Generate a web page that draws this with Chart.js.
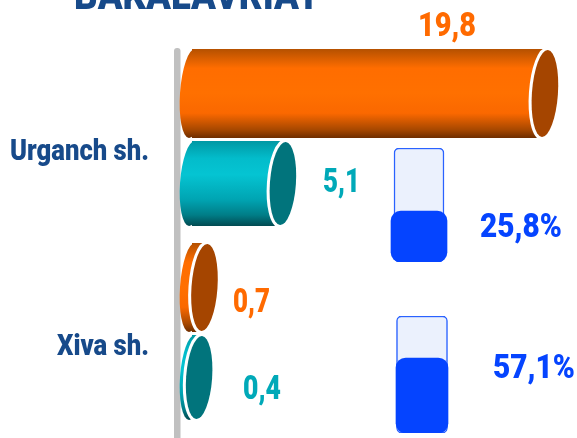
<!DOCTYPE html>
<html><head><meta charset="utf-8">
<style>
html,body{margin:0;padding:0;background:#fff;overflow:hidden}
#wrap{position:relative;width:577px;height:438px}
canvas{position:absolute}
</style>
<script src="https://cdn.jsdelivr.net/npm/chart.js@4"></script>
</head><body>
<div id="wrap">
<canvas id="main" width="577" height="438" style="left:0;top:0"></canvas>
<canvas id="g0" width="64" height="116" style="left:387px;top:147px"></canvas>
<canvas id="g1" width="64" height="119" style="left:390px;top:315px"></canvas>
</div>
<script>
const titleText = "BAKALAVRIAT";
const categories = ["Urganch sh.", "Xiva sh."];
const seriesOrange = [19.8, 0.7];
const seriesTeal = [5.1, 0.4];
const percents = [25.8, 57.1];

const NAVY = "#174a8a", ORANGE = "#ff6a00", TEAL = "#00a9b8", BLUE = "#0544ff";

function comma(v, suffix) { return String(v).replace(".", ",") + (suffix || ""); }

function fitText(ctx, text, left, width, baseline, size, color) {
  ctx.save();
  ctx.font = "900 " + size + "px Roboto";
  ctx.fillStyle = color;
  ctx.textBaseline = "alphabetic";
  ctx.textAlign = "left";
  const k = width / ctx.measureText(text).width;
  ctx.translate(left, baseline);
  ctx.scale(k, 1);
  ctx.fillText(text, 0, 0);
  ctx.restore();
}

const stops = [
  [["#b35000", 0], ["#ff6d00", .22], ["#ff7000", .5], ["#fa6800", .72], ["#a84800", .9], ["#6b2c00", 1]],
  [["#00939e", 0], ["#03bccb", .22], ["#05c4d2", .4], ["#00a4b2", .68], ["#007d87", .85], ["#023f45", 1]]
];
function cylinderFill(ds) {
  return function (c) {
    const ch = c.chart;
    if (!ch.chartArea || !ch.scales.y) return stops[ds][1][0];
    const band = ch.scales.y.getPixelForValue(c.dataIndex);
    const top = ds === 0 ? band - 90 : band, bot = top + 90;
    const g = ch.ctx.createLinearGradient(0, top, 0, bot);
    stops[ds].forEach(s => g.addColorStop(s[1], s[0]));
    return g;
  };
}

const capColors = ["#a54500", "#01747c"];
const TILT = 0.07, RX = 13;

const cylinders = {
  id: "cylinders",
  beforeDatasetsDraw(chart) {
    const ctx = chart.ctx, a = chart.chartArea;
    ctx.save();
    ctx.fillStyle = "#c0c0c0";
    ctx.beginPath();
    ctx.roundRect(174, 48, 6.5, 400, 3);
    ctx.fill();
    chart.data.datasets.forEach((d, i) => {
      chart.getDatasetMeta(i).data.forEach(el => {
        ctx.fillStyle = el.options.backgroundColor;
        ctx.beginPath();
        ctx.ellipse(a.left, el.y, 12, el.height / 2, TILT, 0, Math.PI * 2);
        ctx.fill();
      });
    });
    ctx.restore();
  },
  afterDatasetsDraw(chart) {
    const ctx = chart.ctx;
    ctx.save();
    chart.data.datasets.forEach((d, i) => {
      chart.getDatasetMeta(i).data.forEach(el => {
        const ry = el.height / 2 - 1;
        ctx.beginPath();
        ctx.ellipse(el.x, el.y, RX, ry, TILT, 0, Math.PI * 2);
        ctx.fillStyle = capColors[i];
        ctx.strokeStyle = "#fff";
        ctx.lineWidth = 6;
        ctx.stroke();
        ctx.fill();
      });
    });
    ctx.restore();
  },
  afterDraw(chart) {
    const ctx = chart.ctx, y = chart.scales.y;
    fitText(ctx, titleText, 74, 246, 8.5, 41, NAVY);
    fitText(ctx, categories[0], 10, 139, y.getPixelForValue(0) + 21, 29, NAVY);
    fitText(ctx, categories[1], 57, 92, y.getPixelForValue(1) + 22, 29, NAVY);
    fitText(ctx, comma(seriesOrange[0]), 418, 58, 36, 34, ORANGE);
    fitText(ctx, comma(seriesTeal[0]), 323, 37, 192, 34, TEAL);
    fitText(ctx, comma(seriesOrange[1]), 233, 37, 312, 34, ORANGE);
    fitText(ctx, comma(seriesTeal[1]), 243, 38, 399, 34, TEAL);
    fitText(ctx, comma(percents[0], "%"), 480, 82, 237, 34, BLUE);
    fitText(ctx, comma(percents[1], "%"), 493, 82, 378, 34, BLUE);
  }
};

new Chart(document.getElementById("main"), {
  type: "bar",
  data: {
    labels: categories,
    datasets: [
      { data: seriesOrange, backgroundColor: cylinderFill(0), barPercentage: .99, categoryPercentage: .928, borderRadius: { topRight: 3, bottomRight: 9 }, borderSkipped: false },
      { data: seriesTeal, backgroundColor: cylinderFill(1), barPercentage: .945, categoryPercentage: .928, borderRadius: { topRight: 3, bottomRight: 9 }, borderSkipped: false }
    ]
  },
  options: {
    indexAxis: "y",
    responsive: false,
    animation: false,
    layout: { padding: { top: 41.5, bottom: 8.5, left: 0, right: 0 } },
    plugins: { legend: { display: false }, tooltip: { enabled: false }, title: { display: false } },
    scales: {
      x: { display: false, min: 0, max: 21.6 },
      y: { ticks: { display: false }, grid: { display: false }, border: { display: false },
           afterFit(s) { s.width = 192; } }
    }
  },
  plugins: [cylinders]
});

function gauge(id, pct, floor, trackW, fillW) {
  new Chart(document.getElementById(id), {
    type: "bar",
    data: {
      labels: [""],
      datasets: [
        { data: [pct], base: floor, order: 0, grouped: false, barThickness: fillW, backgroundColor: BLUE, borderRadius: 10, borderSkipped: false },
        { data: [100], base: floor, order: 1, grouped: false, barThickness: trackW, backgroundColor: "#ebf1fd", borderColor: "#2a62ff", borderWidth: 1.5, borderRadius: 5, borderSkipped: false }
      ]
    },
    options: {
      responsive: false,
      animation: false,
      layout: { padding: { top: 1, bottom: 1 } },
      plugins: { legend: { display: false }, tooltip: { enabled: false } },
      scales: { x: { display: false }, y: { display: false, min: floor, max: 100 } }
    }
  });
}
gauge("g0", percents[0], -34, 50, 56);
gauge("g1", percents[1], -19.5, 51, 52);
</script>
</body></html>
